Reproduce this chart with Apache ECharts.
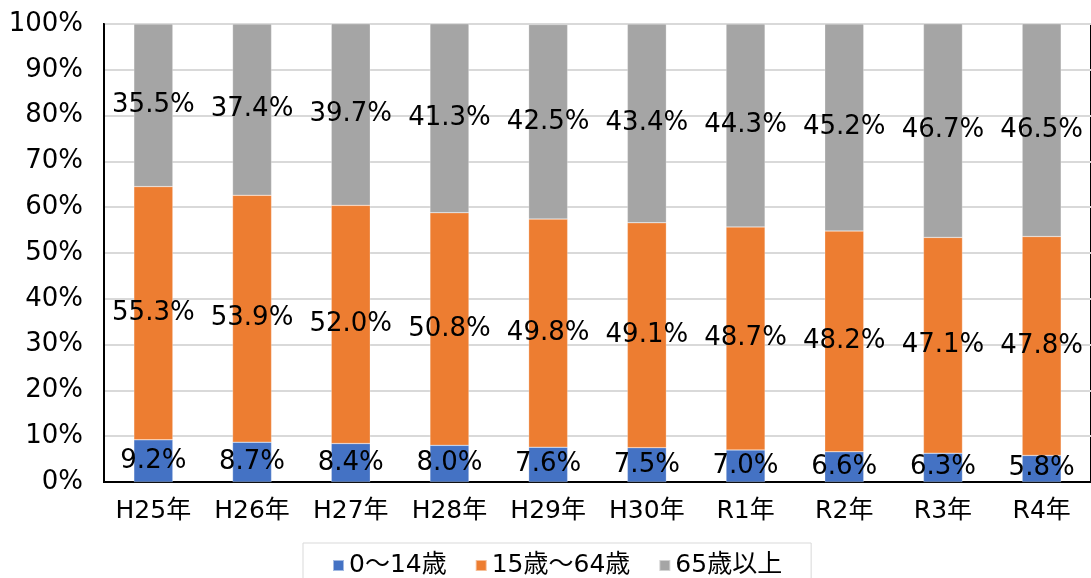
<!DOCTYPE html>
<html>
<head>
<meta charset="utf-8">
<script src="https://cdn.jsdelivr.net/npm/echarts@6/dist/echarts.min.js"></script>
<style>
  html, body { margin: 0; padding: 0; background: #fff; }
  #main { width: 1091px; height: 578px; }
</style>
</head>
<body>
<div id="main"></div>
<script>
var years = ['H25年', 'H26年', 'H27年', 'H28年', 'H29年', 'H30年', 'R1年', 'R2年', 'R3年', 'R4年'];
var young = [9.2, 8.7, 8.4, 8.0, 7.6, 7.5, 7.0, 6.6, 6.3, 5.8];
var working = [55.3, 53.9, 52.0, 50.8, 49.8, 49.1, 48.7, 48.2, 47.1, 47.8];
var elderly = [35.5, 37.4, 39.7, 41.3, 42.5, 43.4, 44.3, 45.2, 46.7, 46.5];
var yTicks = [0, 10, 20, 30, 40, 50, 60, 70, 80, 90, 100];

var font = '"DejaVu Sans", "Noto Sans CJK JP", sans-serif';

var chart = echarts.init(document.getElementById('main'), null, { renderer: 'canvas' });

function barSeries(name, data, color) {
  return {
    name: name,
    type: 'bar',
    stack: 'total',
    barWidth: 39,
    data: data,
    itemStyle: { color: color, borderColor: 'rgba(255,255,255,0.5)', borderWidth: 0.5 },
    label: {
      show: true,
      position: 'inside',
      color: '#000',
      fontFamily: font,
      fontSize: 26,
      formatter: function (p) { return p.value.toFixed(1) + '%'; }
    }
  };
}

chart.setOption({
  animation: false,
  backgroundColor: '#fff',
  textStyle: { fontFamily: font },
  grid: {
    left: 104,
    top: 24,
    width: 991,
    height: 458,
    show: true,
    borderColor: '#000',
    borderWidth: 2
  },
  legend: {
    left: 303,
    top: 543,
    itemWidth: 11,
    itemHeight: 11,
    itemGap: 28,
    padding: [10, 29, 12, 29],
    borderColor: '#d9d9d9',
    borderWidth: 1,
    icon: 'rect',
    textStyle: { fontFamily: font, fontSize: 25, color: '#000' },
    data: ['0～14歳', '15歳～64歳', '65歳以上']
  },
  xAxis: {
    type: 'category',
    data: years,
    axisLine: { lineStyle: { color: '#000', width: 2 } },
    axisTick: { show: false },
    axisLabel: { fontFamily: font, fontSize: 25, color: '#000', margin: 17 }
  },
  yAxis: {
    type: 'value',
    min: 0,
    max: 100,
    interval: 10,
    axisLine: { show: true, lineStyle: { color: '#000', width: 2 } },
    axisLabel: {
      fontFamily: font,
      fontSize: 26,
      color: '#000',
      margin: 21,
      formatter: function (v) { return yTicks.indexOf(v) >= 0 ? v + '%' : ''; }
    },
    splitLine: { lineStyle: { color: '#d9d9d9', width: 2 } }
  },
  series: [
    barSeries('0～14歳', young, '#4472C4'),
    barSeries('15歳～64歳', working, '#ED7D31'),
    barSeries('65歳以上', elderly, '#A5A5A5')
  ]
});
</script>
</body>
</html>
